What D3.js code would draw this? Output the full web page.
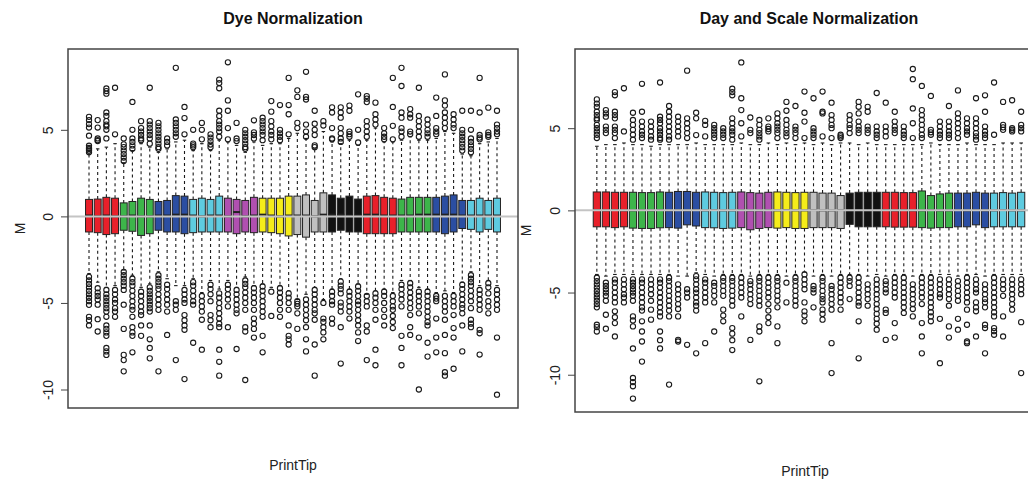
<!DOCTYPE html>
<html><head><meta charset="utf-8">
<script src="https://cdn.jsdelivr.net/npm/d3@7"></script>
<style>body{margin:0;background:#fff}svg{display:block;font-family:"Liberation Sans",Arial,sans-serif}</style>
</head><body><svg id="c" width="1028" height="482"></svg>
<script>
// ---------- DATA ----------
const tips = [1,2,3,4,5,6,7,8,9,10,11,12,13,14,15,16,17,18,19,20,21,22,23,24,25,26,27,28,29,30,31,32,33,34,35,36,37,38,39,40,41,42,43,44,45,46,47,48];
const groupColors = ["#e8202a","#3db54a","#2b4ea2","#5ecbe0","#b050b0","#f5ec1a","#c0c0c0","#111111","#e8202a","#3db54a","#2b4ea2","#5ecbe0"];
const yTicks = [-10,-5,0,5];
const titles = ["Dye Normalization","Day and Scale Normalization"];
const xLabel = "PrintTip", yLabel = "M";

// Panel 1: Dye Normalization
const dyeQ3 = [0.98,1.0,1.1,1.05,0.78,0.86,1.05,0.98,0.86,0.92,1.2,1.17,0.98,1.05,0.98,1.17,1.05,0.98,0.92,1.1,1.05,1.05,1.05,1.17,1.17,1.24,0.92,1.36,1.24,1.05,1.17,1.0,1.17,1.2,1.1,1.05,1.0,1.1,1.1,1.1,1.1,1.17,1.24,0.92,0.92,1.05,0.92,1.05];
const dyeQ1 = [-0.9,-0.94,-1.05,-1.0,-0.8,-0.86,-1.1,-1.0,-0.8,-0.9,-0.9,-1.0,-0.94,-0.9,-0.9,-0.9,-0.9,-1.0,-0.9,-0.94,-0.9,-0.94,-1.0,-1.13,-1.05,-1.2,-0.9,-0.9,-0.9,-0.8,-0.9,-0.9,-1.0,-1.0,-1.0,-1.0,-0.9,-0.9,-0.9,-0.9,-0.9,-1.0,-0.9,-0.7,-0.75,-0.9,-0.75,-0.9];
const dyeMed = [0.05,0.0,0.05,0.0,0.0,0.05,0.0,0.0,0.05,0.05,0.1,0.1,0.05,0.0,0.05,0.05,0.0,0.25,0.0,0.05,0.1,0.05,0.0,0.05,0.05,0.05,0.0,0.1,0.1,0.1,0.05,0.05,0.1,0.1,0.05,0.05,0.05,0.05,0.1,0.1,0.1,0.1,0.1,0.05,0.05,0.05,0.05,0.05];
const dyeHi = [3.6,3.9,4.0,4.2,3.1,3.8,4.2,4.0,3.7,3.9,4.3,4.4,3.8,4.2,3.8,4.4,4.3,4.1,3.7,4.3,4.1,4.2,4.2,4.5,4.8,4.5,3.9,4.9,4.3,4.2,4.4,4.1,4.4,5.1,4.3,4.3,4.4,4.6,4.4,4.4,4.5,4.9,4.8,3.6,3.5,4.2,4.3,4.5];
const dyeLo = [-3.3,-3.8,-4.1,-4.0,-3.1,-3.4,-4.1,-3.9,-3.2,-3.6,-4.0,-4.0,-3.6,-4.4,-3.7,-4.2,-3.7,-4.1,-3.5,-4.0,-3.9,-4.1,-4.0,-4.3,-4.8,-4.5,-4.1,-4.8,-4.2,-3.6,-4.2,-3.9,-4.5,-4.3,-4.2,-4.4,-3.7,-3.7,-4.1,-4.2,-4.4,-4.3,-4.4,-3.8,-3.2,-4.0,-3.7,-4.0];
const dyeOut = [
 [5.75,5.56,5.33,5.13,4.66,4.08,3.95,3.89,3.8,3.7,-3.49,-3.7,-3.9,-4.1,-4.3,-4.5,-4.7,-4.9,-5.11,-5.8,-6.0,-6.3],
 [5.56,5.13,4.5,4.4,4.35,-4.15,-4.4,-4.6,-4.8,-5.1,-5.94,-6.65],
 [7.39,7.24,7.09,6.0,5.8,5.5,5.3,5.2,5.0,4.5,-4.25,-4.5,-4.7,-4.9,-5.1,-5.3,-5.5,-5.8,-6.3,-6.5,-6.7,-6.9,-7.6,-7.8,-8.0],
 [7.43,4.74,-4.25,-4.5,-4.8,-5.0,-5.3,-5.5,-5.8],
 [4.5,4.16,4.0,3.8,3.6,3.4,3.2,-3.2,-3.4,-3.6,-3.8,-4.0,-4.25,-5.1,-6.5,-8.0,-8.3,-8.95],
 [6.61,5.0,4.5,4.3,4.1,3.9,-3.6,-3.8,-4.0,-4.3,-4.6,-4.9,-5.2,-5.4,-5.8,-6.4,-6.7,-6.9,-7.85],
 [5.5,5.1,4.9,4.7,4.5,4.4,-4.35,-4.6,-4.9,-5.2,-5.5,-5.7,-6.3,-6.9],
 [7.43,5.5,5.3,5.1,4.9,4.7,4.5,4.2,-4.1,-4.3,-4.5,-4.7,-4.9,-5.1,-5.3,-5.5,-6.3,-7.1,-7.6,-8.2],
 [5.4,5.2,5.0,4.8,4.6,4.4,4.2,4.0,3.9,-3.4,-3.6,-3.8,-4.0,-4.2,-4.5,-4.8,-5.1,-5.4,-8.95],
 [4.5,4.3,4.1,-3.95,-4.2,-4.5,-4.8,-5.1,-5.5,-6.85],
 [8.58,5.6,5.4,5.2,5.0,4.8,4.6,-4.9,-5.1,-5.4,-8.3],
 [6.32,5.68,4.74,-4.25,-4.5,-4.8,-5.0,-5.7,-6.0,-6.3,-6.55,-9.4],
 [5.0,4.2,4.1,4.0,-3.8,-4.0,-4.3,-4.6,-4.9,-5.1,-7.3],
 [5.4,5.0,4.45,-4.6,-4.9,-5.2,-5.5,-5.97,-7.7],
 [4.74,4.55,4.35,4.15,4.0,-3.95,-4.2,-4.5,-4.9,-5.7,-6.0,-6.4],
 [7.9,7.7,7.4,6.1,5.8,5.5,5.3,5.1,4.9,4.6,-4.45,-4.7,-5.0,-5.3,-5.6,-5.9,-6.2,-6.4,-7.7,-8.4,-9.2],
 [8.9,6.7,6.1,5.1,4.45,-3.95,-4.2,-4.5,-4.8,-5.2,-6.4],
 [5.4,4.5,4.35,-4.25,-4.5,-4.8,-5.1,-5.4,-5.6,-7.66],
 [5.0,4.8,4.6,4.4,4.2,4.0,3.9,-3.7,-3.9,-4.1,-4.4,-4.7,-5.0,-5.4,-6.4,-6.65,-9.45],
 [5.55,4.85,4.7,4.5,-4.15,-4.4,-4.7,-5.0,-5.4,-5.9,-6.2,-6.5,-7.0],
 [5.7,5.5,5.3,5.1,4.9,4.7,4.4,-4.05,-4.3,-4.6,-4.9,-5.2,-5.5,-5.8,-6.9,-7.85],
 [6.66,6.05,5.5,5.2,4.9,4.7,4.45,-4.35,-5.75],
 [6.43,5.0,4.8,4.6,4.4,-4.15,-4.4,-4.7,-5.0,-5.4,-5.8],
 [8.0,6.43,5.9,4.74,-4.45,-4.7,-5.0,-5.4,-6.3,-6.9,-7.1,-7.4],
 [7.28,6.9,5.4,5.1,-4.9,-5.05,-5.2,-5.6,-6.5],
 [8.35,6.9,6.75,5.3,4.9,4.6,-4.8,-5.1,-5.4,-5.7,-6.0,-6.4,-7.1,-7.8],
 [6.1,5.35,5.0,4.7,4.1,4.0,-4.25,-4.5,-4.8,-5.1,-5.4,-5.6,-5.97,-7.4,-9.2],
 [5.5,5.25,-5.0,-5.9,-6.1,-6.4,-6.7,-7.1],
 [6.3,6.0,5.1,4.5,4.45,-4.35,-4.6,-4.9,-5.1,-5.9,-6.2],
 [6.3,6.0,5.7,5.1,4.8,4.5,4.3,-3.77,-4.0,-4.2,-4.45,-4.98,-5.2,-5.5,-6.4,-8.5],
 [6.4,6.1,4.9,4.75,4.6,-4.35,-4.6,-4.9,-5.2,-5.5,-5.9],
 [7.05,5.0,4.27,-4.05,-4.3,-4.6,-4.9,-5.1,-5.4,-5.7,-6.0,-6.3,-6.7,-7.2],
 [6.95,6.8,6.6,5.5,5.2,4.9,4.6,-4.6,-4.9,-5.2,-6.3,-6.65,-8.3],
 [6.57,5.9,5.6,5.3,-4.45,-4.7,-5.0,-5.4,-5.97,-7.7,-8.6],
 [5.1,4.8,4.6,4.45,-4.35,-4.6,-5.0,-5.4,-5.8,-6.3],
 [8.0,6.32,5.23,4.45,-4.6,-4.9,-5.2,-5.4,-5.75,-6.1,-6.45],
 [8.58,7.53,6.0,5.7,5.1,4.9,4.6,-3.95,-4.2,-4.5,-4.8,-5.2,-6.9,-7.6,-8.6],
 [6.2,5.9,5.7,4.9,4.75,-3.86,-4.1,-4.4,-4.7,-5.0,-5.3,-5.7,-6.4,-6.85],
 [7.43,5.8,5.5,5.2,4.9,4.6,-4.35,-4.6,-4.9,-5.2,-5.6,-7.0,-10.0],
 [5.6,5.3,5.0,4.8,4.6,-4.35,-4.6,-4.9,-5.2,-5.5,-5.8,-6.1,-6.3,-7.3,-8.1],
 [6.86,5.8,5.1,4.9,4.75,-4.6,-4.75,-4.9,-5.9,-7.0,-7.85],
 [8.2,6.7,6.4,6.0,5.7,5.4,5.1,-4.6,-4.9,-5.2,-5.5,-5.97,-6.85,-7.9,-9.0,-9.2],
 [5.9,5.6,5.3,5.1,-4.6,-4.9,-5.2,-5.7,-6.45,-7.0,-8.8],
 [6.1,5.0,4.8,4.6,4.4,4.2,4.0,3.8,-3.95,-4.2,-4.5,-4.8,-5.1,-5.3,-5.6,-6.3,-7.8],
 [6.1,5.0,4.5,4.3,4.1,3.9,3.7,-3.4,-3.6,-3.8,-4.0,-4.3,-4.6,-4.9,-5.3,-5.97,-6.2,-6.4],
 [8.0,6.0,4.7,4.55,4.45,-4.25,-4.5,-4.8,-5.1,-5.4,-6.55,-6.75,-7.98],
 [6.28,4.85,4.7,4.6,-3.86,-4.1,-4.45,-4.9,-5.2,-5.6],
 [6.1,5.3,5.1,4.9,4.75,-4.25,-4.5,-4.8,-5.1,-5.4,-7.0,-10.3]
];

// Panel 2: Day and Scale Normalization
const scaleQ3 = [1.12,1.12,1.1,1.1,1.1,1.08,1.08,1.12,1.1,1.15,1.15,1.1,1.12,1.1,1.08,1.1,1.12,1.08,1.05,1.1,1.12,1.1,1.08,1.1,1.1,1.05,1.05,0.9,1.05,1.1,1.1,1.1,1.1,1.1,1.08,1.08,1.18,0.9,1.0,1.05,1.05,1.05,1.1,1.05,1.05,1.08,1.05,1.1];
const scaleQ1 = [-1.0,-1.0,-1.05,-1.0,-1.08,-1.1,-1.1,-1.06,-1.05,-1.08,-0.88,-0.95,-1.05,-1.06,-1.1,-1.08,-1.05,-1.18,-1.1,-1.05,-1.08,-1.05,-1.1,-1.1,-1.05,-1.05,-1.05,-1.1,-0.85,-1.0,-1.0,-1.0,-1.0,-1.02,-1.02,-1.02,-1.05,-1.08,-1.05,-1.05,-1.0,-1.0,-0.88,-1.05,-1.0,-1.0,-1.0,-1.0];
const scaleMed = [0.02,0.0,0.02,0.0,0.0,0.02,0.0,0.02,0.0,0.02,0.0,0.02,0.0,0.02,0.0,0.0,0.02,0.0,0.0,0.02,0.0,0.02,0.0,0.0,0.02,0.0,0.0,0.02,0.0,0.02,0.0,0.0,0.02,0.0,0.02,0.0,0.0,0.02,0.0,0.0,0.02,0.0,0.02,0.0,0.0,0.02,0.0,0.0];
const scaleHi = [3.9,4.0,4.0,4.1,4.0,4.0,3.9,4.0,4.0,4.0,4.0,4.1,4.0,4.0,4.0,4.0,4.1,4.0,4.0,4.1,4.0,4.1,4.0,4.1,4.0,4.1,4.0,4.1,4.1,4.0,4.1,4.0,4.0,4.0,4.0,4.0,4.0,4.1,4.0,4.0,4.0,4.1,4.0,4.0,4.0,4.1,4.1,4.1];
const scaleLo = [-3.9,-4.0,-3.9,-3.9,-3.9,-3.9,-3.9,-3.9,-3.9,-4.0,-4.0,-3.8,-3.9,-4.0,-3.9,-3.9,-3.9,-4.0,-3.9,-3.9,-3.9,-4.0,-3.9,-3.75,-4.0,-3.9,-4.0,-3.9,-3.9,-3.9,-4.0,-3.9,-4.0,-3.9,-3.9,-4.0,-3.9,-3.9,-3.9,-3.9,-4.0,-3.9,-3.9,-4.0,-3.9,-3.9,-3.9,-3.9];
const scaleOut = [
 [6.75,6.5,6.3,6.0,5.8,5.6,5.5,5.2,5.0,4.8,4.6,4.4,-4.1,-4.3,-4.5,-4.7,-4.9,-5.1,-5.3,-5.5,-5.7,-5.9,-6.96,-7.1,-7.37],
 [6.1,5.9,5.7,5.1,4.9,4.7,-4.4,-4.6,-4.8,-5.0,-5.2,-5.5,-6.35,-7.2],
 [7.2,7.0,6.0,5.8,5.6,5.1,4.9,4.7,4.4,-4.2,-4.4,-4.7,-5.0,-5.3,-5.6,-6.14,-6.5,-6.86,-7.67],
 [7.43,4.8,-4.2,-4.5,-4.8,-5.1,-5.3,-5.6],
 [5.94,5.5,5.2,4.9,4.6,4.3,-4.2,-4.4,-4.6,-4.8,-5.0,-5.2,-5.5,-6.45,-6.7,-7.06,-8.4,-10.2,-10.45,-10.7,-11.45],
 [7.7,6.0,5.4,5.1,4.8,4.6,4.4,-4.2,-4.4,-4.7,-5.0,-5.3,-5.6,-5.9,-6.1,-6.75,-7.37,-7.98,-9.2],
 [5.4,5.1,4.8,4.5,4.3,-4.2,-4.5,-4.8,-5.1,-5.5,-6.04,-6.65],
 [7.78,5.7,5.5,5.3,5.0,4.8,4.6,4.4,4.3,-4.2,-4.4,-4.7,-5.0,-5.3,-5.6,-5.9,-6.2,-6.45,-7.37,-7.9,-8.4],
 [6.35,6.0,5.7,5.4,5.1,4.8,4.5,4.3,-4.1,-4.3,-4.6,-4.9,-5.2,-5.5,-5.8,-6.1,-6.45,-10.6],
 [5.7,5.4,5.1,4.8,4.5,-4.5,-4.8,-5.1,-5.4,-5.7,-6.0,-6.45,-7.88,-7.98],
 [8.5,5.6,5.3,5.0,4.7,4.4,-4.8,-5.0,-5.3,-8.18],
 [5.94,5.6,4.58,-4.0,-4.2,-4.5,-4.8,-5.0,-5.3,-5.6,-5.8,-6.1,-8.7],
 [5.45,5.2,4.5,-4.2,-4.4,-4.7,-5.0,-5.3,-5.6,-8.08],
 [5.2,5.0,4.8,4.6,4.4,-4.4,-4.6,-4.9,-5.2,-5.6,-7.37],
 [5.0,4.8,4.6,4.4,-4.1,-4.3,-4.6,-4.9,-5.2,-6.04,-6.4,-6.75],
 [7.4,7.2,7.0,5.6,5.3,5.0,4.8,4.6,4.3,-4.1,-4.3,-4.6,-4.9,-5.2,-5.5,-5.8,-7.16,-7.5,-7.9,-8.5],
 [9.0,6.82,6.1,5.3,4.5,-4.1,-4.4,-4.7,-5.0,-5.3,-6.45],
 [5.65,4.9,4.7,-4.3,-4.5,-4.8,-5.1,-5.4,-5.7,-7.88],
 [5.5,5.2,4.9,4.7,4.5,4.3,-4.1,-4.3,-4.6,-4.9,-5.2,-5.5,-5.8,-7.06,-7.37,-10.4],
 [5.6,5.1,4.95,4.8,-4.1,-4.4,-4.7,-5.0,-5.3,-5.7,-6.1,-6.5,-6.86],
 [5.9,5.6,5.3,5.1,4.9,4.7,4.4,-4.1,-4.3,-4.6,-4.9,-5.2,-5.5,-5.9,-7.06,-8.08],
 [6.6,6.06,5.5,5.2,4.9,4.7,4.5,-4.4,-5.6],
 [6.35,5.1,4.9,4.7,4.4,-4.1,-4.3,-4.6,-4.9,-5.2,-5.5,-5.8],
 [7.23,5.94,5.4,4.4,-3.9,-4.2,-4.5,-4.8,-5.6,-6.14,-6.4,-6.75],
 [6.82,5.0,4.8,4.6,4.4,-4.6,-4.8,-5.0,-5.9],
 [7.23,6.0,5.9,4.5,-4.1,-4.3,-4.6,-4.9,-5.2,-5.4,-5.6,-6.04,-6.3,-6.65],
 [6.55,5.8,5.5,5.2,5.0,4.4,-4.6,-4.8,-5.1,-5.4,-5.7,-6.04,-8.08,-9.9],
 [4.6,4.5,4.4,-4.1,-4.4,-4.7,-5.0,-5.3,-5.6,-6.04],
 [5.8,5.5,5.2,5.0,4.7,-4.1,-4.3,-4.6,-5.4],
 [6.6,6.3,5.9,5.4,5.1,4.9,4.7,-4.1,-4.4,-4.7,-5.0,-5.3,-5.6,-5.8,-6.75,-9.0],
 [6.3,6.0,5.1,4.9,4.7,-4.5,-4.8,-5.1,-5.4,-5.8],
 [7.14,5.1,4.8,4.6,4.4,-4.2,-4.5,-4.8,-5.1,-5.4,-5.7,-6.0,-6.3,-6.6,-6.9,-7.26],
 [6.55,5.1,4.8,4.5,-4.3,-4.5,-4.8,-5.0,-6.04,-6.24,-7.88],
 [6.0,5.4,5.1,4.9,4.7,-4.1,-4.4,-4.7,-5.0,-5.3,-6.86,-7.74],
 [5.1,4.8,4.6,4.4,-4.1,-4.4,-4.7,-5.0,-5.3,-5.6,-5.9,-6.24],
 [8.6,7.98,6.2,5.3,4.4,-4.5,-4.8,-5.1,-5.4,-5.7,-6.0,-6.45],
 [7.57,6.1,5.8,5.5,5.2,4.9,4.6,4.4,-4.1,-4.4,-4.7,-5.0,-5.3,-5.7,-6.86,-7.67,-8.7],
 [6.96,4.9,4.75,4.6,-4.1,-4.4,-4.7,-5.0,-5.3,-5.6,-5.9,-6.2,-6.45,-6.75],
 [5.4,5.1,4.8,4.6,4.4,-4.2,-4.5,-4.8,-5.1,-5.3,-6.6,-9.3],
 [6.35,5.4,5.1,4.8,4.6,4.4,-4.2,-4.5,-4.8,-5.1,-5.4,-5.8,-7.06,-7.74],
 [7.3,5.9,5.6,5.3,5.0,4.7,4.4,-4.3,-4.6,-4.9,-5.2,-5.5,-6.6,-7.26],
 [5.6,5.3,5.0,4.8,4.6,-4.1,-4.4,-4.7,-5.0,-5.3,-5.6,-6.04,-6.96,-7.98,-8.08],
 [6.82,5.6,5.3,5.0,4.7,4.5,4.3,-4.2,-4.5,-4.8,-5.0,-5.6,-5.9,-6.14,-7.67],
 [7.0,6.0,5.1,4.8,4.6,4.4,-4.5,-4.8,-5.1,-5.4,-5.6,-5.9,-6.96,-7.16,-8.7],
 [7.78,4.6,-4.1,-4.4,-4.7,-5.0,-5.3,-5.6,-5.9,-6.2,-6.45,-7.16,-7.35,-7.57],
 [6.6,5.2,5.05,4.9,-4.2,-4.5,-4.8,-5.2,-6.45,-7.67],
 [6.7,5.0,4.9,4.8,-4.2,-4.5,-4.8,-5.1,-5.4,-5.7,-6.04],
 [6.0,5.2,5.0,4.8,-4.2,-4.5,-4.8,-5.1,-6.8,-9.9]
];

// ---------- DRAW ----------
const svg = d3.select("#c");
const panels = [
  {title: titles[0], q1: dyeQ1, med: dyeMed, q3: dyeQ3, lo: dyeLo, hi: dyeHi, out: dyeOut,
   left: 68, right: 518, top: 49, bottom: 408, ylabX: 20, xlabY: 470},
  {title: titles[1], q1: scaleQ1, med: scaleMed, q3: scaleQ3, lo: scaleLo, hi: scaleHi, out: scaleOut,
   left: 575, right: 1043, top: 49, bottom: 412, ylabX: 526, xlabY: 476}
];

panels.forEach(p => {
  const g = svg.append("g");
  const n = tips.length;
  const x = d3.scaleLinear().domain([0.5 - 0.04 * n, n + 0.5 + 0.04 * n]).range([p.left, p.right]);
  const all = [].concat(p.lo, p.hi, ...p.out);
  const mn = d3.min(all), mx = d3.max(all), rg = mx - mn;
  const y = d3.scaleLinear().domain([mn - 0.04 * rg, mx + 0.04 * rg]).range([p.bottom, p.top]);
  const bw = x(0.8) - x(0);
  const sw = bw * 0.5;
  const rows = tips.map((t, i) => ({t, i, q1: p.q1[i], med: p.med[i], q3: p.q3[i], lo: p.lo[i], hi: p.hi[i], out: p.out[i],
    col: groupColors[Math.floor(i / 4)]}));

  const bx = g.selectAll("g.box").data(rows).join("g").attr("class", "box");
  // whiskers (dashed)
  bx.append("line").attr("x1", d => x(d.t)).attr("x2", d => x(d.t))
    .attr("y1", d => y(d.q3)).attr("y2", d => y(d.hi))
    .attr("stroke", "#1a1a1a").attr("stroke-width", 1.1).attr("stroke-dasharray", "3,3");
  bx.append("line").attr("x1", d => x(d.t)).attr("x2", d => x(d.t))
    .attr("y1", d => y(d.q1)).attr("y2", d => y(d.lo))
    .attr("stroke", "#1a1a1a").attr("stroke-width", 1.1).attr("stroke-dasharray", "3,3");
  // staples
  bx.append("line").attr("x1", d => x(d.t) - sw / 2).attr("x2", d => x(d.t) + sw / 2)
    .attr("y1", d => y(d.hi)).attr("y2", d => y(d.hi)).attr("stroke", "#1a1a1a").attr("stroke-width", 1.1);
  bx.append("line").attr("x1", d => x(d.t) - sw / 2).attr("x2", d => x(d.t) + sw / 2)
    .attr("y1", d => y(d.lo)).attr("y2", d => y(d.lo)).attr("stroke", "#1a1a1a").attr("stroke-width", 1.1);
  // boxes
  bx.append("rect").attr("x", d => x(d.t) - bw / 2).attr("width", bw)
    .attr("y", d => y(d.q3)).attr("height", d => y(d.q1) - y(d.q3))
    .attr("fill", d => d.col).attr("stroke", "#222").attr("stroke-width", 1);
  // medians
  bx.append("line").attr("x1", d => x(d.t) - bw / 2).attr("x2", d => x(d.t) + bw / 2)
    .attr("y1", d => y(d.med)).attr("y2", d => y(d.med)).attr("stroke", "#222").attr("stroke-width", 2);
  // outliers
  bx.selectAll("circle").data(d => d.out.map(v => ({t: d.t, v}))).join("circle")
    .attr("cx", d => x(d.t)).attr("cy", d => y(d.v)).attr("r", 2.6)
    .attr("fill", "none").attr("stroke", "#1a1a1a").attr("stroke-width", 1.1);

  // zero reference line
  g.append("line").attr("x1", p.left).attr("x2", p.right).attr("y1", y(0)).attr("y2", y(0))
    .attr("stroke", "#c4c4c4").attr("stroke-width", 2);

  // frame
  g.append("rect").attr("x", p.left).attr("y", p.top).attr("width", p.right - p.left).attr("height", p.bottom - p.top)
    .attr("fill", "none").attr("stroke", "#444").attr("stroke-width", 1.5);

  // y axis
  const ax = g.append("g").attr("transform", `translate(${p.left},0)`)
    .call(d3.axisLeft(y).tickValues(yTicks).tickSize(7).tickFormat(d => String(d)));
  ax.select(".domain").remove();
  ax.selectAll(".tick line").attr("stroke", "#444");
  ax.selectAll(".tick text").attr("x", null).attr("dy", null)
    .attr("text-anchor", "middle").attr("transform", "translate(-15,0) rotate(-90)")
    .attr("font-size", 14).attr("fill", "#222").style("font-family", "'Liberation Sans',Arial,sans-serif");

  // titles and labels
  g.append("text").attr("x", (p.left + p.right) / 2).attr("y", 24).attr("text-anchor", "middle")
    .attr("font-size", 16).attr("font-weight", "bold").attr("fill", "#111").text(p.title);
  g.append("text").attr("x", (p.left + p.right) / 2 - (p.right > 1028 ? 4 : 0)).attr("y", p.xlabY).attr("text-anchor", "middle")
    .attr("font-size", 14).attr("fill", "#222").text(xLabel);
  g.append("text").attr("transform", `translate(${p.ylabX + 5},${(p.top + p.bottom) / 2}) rotate(-90)`)
    .attr("text-anchor", "middle").attr("font-size", 14).attr("fill", "#222").text(yLabel);
});
</script></body></html>
